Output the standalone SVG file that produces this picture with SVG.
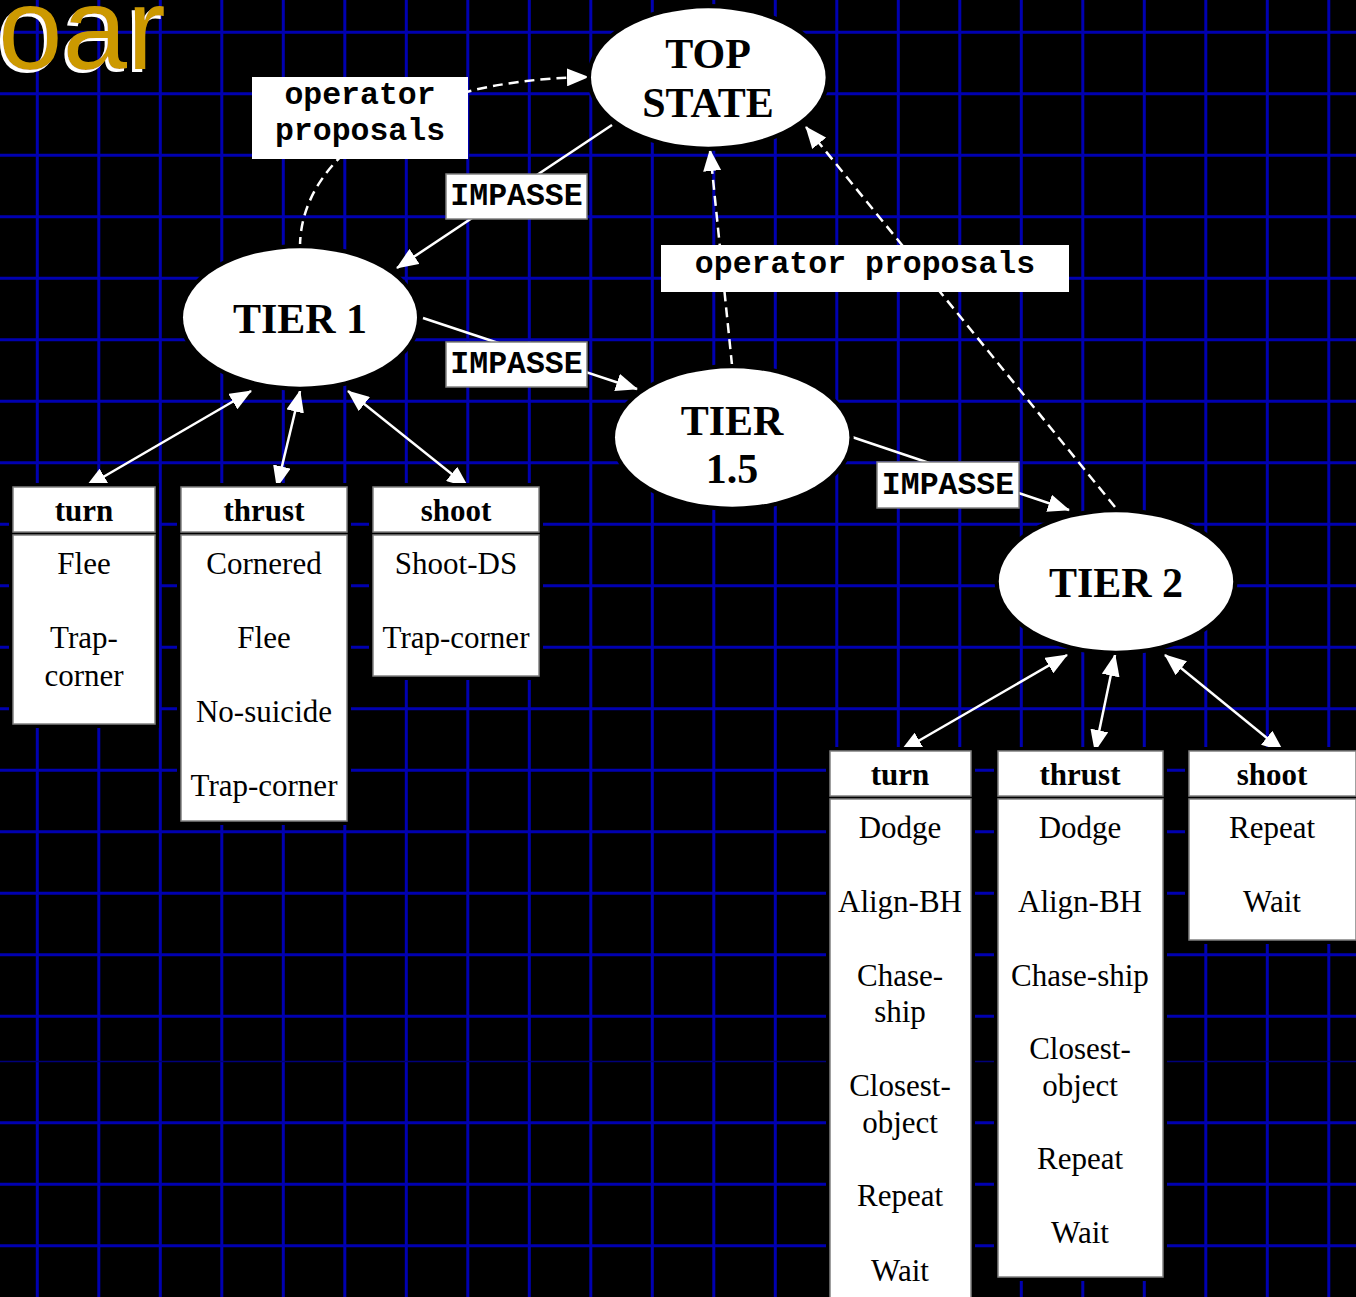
<svg xmlns="http://www.w3.org/2000/svg" width="1356" height="1297" viewBox="0 0 1356 1297">
<defs>
<style>
.grid line{stroke:#0000b0;stroke-width:3}
.halo{fill:#000}
.node{fill:#fff}
.nl{font-family:"Liberation Serif","Times New Roman",serif;font-weight:bold;font-size:42px;text-anchor:middle;fill:#000}
.box{fill:#fff;stroke:#808080;stroke-width:1.5}
.lbox{fill:#fff}
.hdr{font-family:"Liberation Serif","Times New Roman",serif;font-weight:bold;font-size:31px;text-anchor:middle;fill:#000}
.it{font-family:"Liberation Serif","Times New Roman",serif;font-size:31px;text-anchor:middle;fill:#000}
.lbl{font-family:"Liberation Mono","Courier New",monospace;font-weight:bold;font-size:31.5px;text-anchor:middle;fill:#000}
.edge{stroke:#fff;stroke-width:2.5;fill:none}
.dash{stroke-dasharray:10 6}
</style>
<filter id="wshadow" x="-20%" y="-20%" width="140%" height="140%">
<feFlood flood-color="#fff" result="w"/>
<feComposite in="w" in2="SourceAlpha" operator="in" result="ws"/>
<feOffset in="ws" dx="-3" dy="3" result="off"/>
<feMerge><feMergeNode in="off"/><feMergeNode in="SourceGraphic"/></feMerge>
</filter>
<marker id="ah" viewBox="0 0 22 18" markerWidth="22" markerHeight="18" refX="21" refY="9" orient="auto-start-reverse" markerUnits="userSpaceOnUse">
<path d="M0,0 L22,9 L0,18 z" fill="#fff"/>
</marker>
</defs>
<rect x="0" y="0" width="1356" height="1297" fill="#000"/>
<g class="grid">
<line x1="37.3" y1="0" x2="37.3" y2="1297"/><line x1="98.8" y1="0" x2="98.8" y2="1297"/><line x1="160.3" y1="0" x2="160.3" y2="1297"/><line x1="221.8" y1="0" x2="221.8" y2="1297"/><line x1="283.3" y1="0" x2="283.3" y2="1297"/><line x1="344.8" y1="0" x2="344.8" y2="1297"/><line x1="406.3" y1="0" x2="406.3" y2="1297"/><line x1="467.8" y1="0" x2="467.8" y2="1297"/><line x1="529.3" y1="0" x2="529.3" y2="1297"/><line x1="590.8" y1="0" x2="590.8" y2="1297"/><line x1="652.3" y1="0" x2="652.3" y2="1297"/><line x1="713.8" y1="0" x2="713.8" y2="1297"/><line x1="775.3" y1="0" x2="775.3" y2="1297"/><line x1="836.8" y1="0" x2="836.8" y2="1297"/><line x1="898.3" y1="0" x2="898.3" y2="1297"/><line x1="959.8" y1="0" x2="959.8" y2="1297"/><line x1="1021.3" y1="0" x2="1021.3" y2="1297"/><line x1="1082.8" y1="0" x2="1082.8" y2="1297"/><line x1="1144.3" y1="0" x2="1144.3" y2="1297"/><line x1="1205.8" y1="0" x2="1205.8" y2="1297"/><line x1="1267.3" y1="0" x2="1267.3" y2="1297"/><line x1="1328.8" y1="0" x2="1328.8" y2="1297"/>
<line x1="0" y1="32.3" x2="1356" y2="32.3"/><line x1="0" y1="93.8" x2="1356" y2="93.8"/><line x1="0" y1="155.3" x2="1356" y2="155.3"/><line x1="0" y1="216.8" x2="1356" y2="216.8"/><line x1="0" y1="278.3" x2="1356" y2="278.3"/><line x1="0" y1="339.8" x2="1356" y2="339.8"/><line x1="0" y1="401.3" x2="1356" y2="401.3"/><line x1="0" y1="462.8" x2="1356" y2="462.8"/><line x1="0" y1="524.3" x2="1356" y2="524.3"/><line x1="0" y1="585.8" x2="1356" y2="585.8"/><line x1="0" y1="647.3" x2="1356" y2="647.3"/><line x1="0" y1="708.8" x2="1356" y2="708.8"/><line x1="0" y1="770.3" x2="1356" y2="770.3"/><line x1="0" y1="831.8" x2="1356" y2="831.8"/><line x1="0" y1="893.3" x2="1356" y2="893.3"/><line x1="0" y1="954.8" x2="1356" y2="954.8"/><line x1="0" y1="1016.3" x2="1356" y2="1016.3"/><line x1="0" y1="1061.5" x2="1356" y2="1061.5" style="stroke-width:1.5;stroke:#00007a"/><line x1="0" y1="1122.7" x2="1356" y2="1122.7"/><line x1="0" y1="1184.2" x2="1356" y2="1184.2"/><line x1="0" y1="1245.7" x2="1356" y2="1245.7"/>
</g>
<g id="title">
<text x="-2" y="69" font-family="'Liberation Sans',Arial,sans-serif" font-size="116" fill="#cc9900" filter="url(#wshadow)">oar</text>
</g>
<g id="connectors">
<path class="edge" d="M612,125 L397,268" marker-end="url(#ah)"/>
<path class="edge" d="M423,318 L637,389" marker-end="url(#ah)"/>
<path class="edge" d="M852,437 L1069,510" marker-end="url(#ah)"/>
<path class="edge dash" d="M300,247 C300,160 400,80 588,77" marker-end="url(#ah)"/>
<path class="edge dash" d="M732,365 L710,150" marker-end="url(#ah)"/>
<path class="edge dash" d="M1115,507 L806,127" marker-end="url(#ah)"/>
<path class="edge" d="M251,391 L86,487" marker-start="url(#ah)" marker-end="url(#ah)"/>
<path class="edge" d="M300,391 L277,487" marker-start="url(#ah)" marker-end="url(#ah)"/>
<path class="edge" d="M348,391 L468,487" marker-start="url(#ah)" marker-end="url(#ah)"/>
<path class="edge" d="M1067,655 L901,751" marker-start="url(#ah)" marker-end="url(#ah)"/>
<path class="edge" d="M1115,655 L1095,751" marker-start="url(#ah)" marker-end="url(#ah)"/>
<path class="edge" d="M1165,655 L1283,751" marker-start="url(#ah)" marker-end="url(#ah)"/>
</g>
<g id="top-state">
<ellipse class="halo" cx="708.3" cy="77.5" rx="121.5" ry="73.5"/>
<ellipse class="node" cx="708.3" cy="77.5" rx="117.3" ry="69.2"/>
<text class="nl" x="708" y="68">TOP</text>
<text class="nl" x="708" y="117">STATE</text>
</g>
<g id="tier1">
<ellipse class="halo" cx="300" cy="317.5" rx="121" ry="73.5"/>
<ellipse class="node" cx="300" cy="317.5" rx="117" ry="69.2"/>
<text class="nl" x="300" y="333">TIER 1</text>
</g>
<g id="tier15">
<ellipse class="halo" cx="732.2" cy="437.5" rx="121.5" ry="73.5"/>
<ellipse class="node" cx="732.2" cy="437.5" rx="117.2" ry="69.2"/>
<text class="nl" x="732" y="435">TIER</text>
<text class="nl" x="732" y="483">1.5</text>
</g>
<g id="tier2">
<ellipse class="halo" cx="1116" cy="581.5" rx="121.5" ry="73.5"/>
<ellipse class="node" cx="1116" cy="581.5" rx="117.2" ry="69.2"/>
<text class="nl" x="1116" y="597">TIER 2</text>
</g>
<g id="label-op1">
<rect class="lbox" x="252" y="77" width="216" height="82"/>
<text class="lbl" x="360" y="104">operator</text>
<text class="lbl" x="360" y="140">proposals</text>
</g>
<g id="label-imp1">
<rect class="box" x="446" y="174" width="141" height="45"/>
<text class="lbl" x="516.5" y="205">IMPASSE</text>
</g>
<g id="label-imp2">
<rect class="box" x="446" y="342" width="141" height="45"/>
<text class="lbl" x="516.5" y="373">IMPASSE</text>
</g>
<g id="label-imp3">
<rect class="box" x="877" y="462" width="142" height="46"/>
<text class="lbl" x="948" y="494">IMPASSE</text>
</g>
<g id="label-op2">
<rect class="lbox" x="661" y="245" width="408" height="47"/>
<text class="lbl" x="865" y="273">operator proposals</text>
</g>
<g id="t1-turn">
<rect class="halo" x="9" y="483" width="150" height="245"/>
<rect class="box" x="13" y="487" width="142" height="45"/>
<text class="hdr" x="84" y="521">turn</text>
<rect class="box" x="13" y="535" width="142" height="189"/>
<text class="it" x="84" y="574">Flee</text>
<text class="it" x="84" y="648">Trap-</text>
<text class="it" x="84" y="686">corner</text>
</g>
<g id="t1-thrust">
<rect class="halo" x="177" y="483" width="174" height="342"/>
<rect class="box" x="181" y="487" width="166" height="45"/>
<text class="hdr" x="264" y="521">thrust</text>
<rect class="box" x="181" y="535" width="166" height="286"/>
<text class="it" x="264" y="574">Cornered</text>
<text class="it" x="264" y="648">Flee</text>
<text class="it" x="264" y="722">No-suicide</text>
<text class="it" x="264" y="796">Trap-corner</text>
</g>
<g id="t1-shoot">
<rect class="halo" x="369" y="483" width="174" height="197"/>
<rect class="box" x="373" y="487" width="166" height="45"/>
<text class="hdr" x="456" y="521">shoot</text>
<rect class="box" x="373" y="535" width="166" height="141"/>
<text class="it" x="456" y="574">Shoot-DS</text>
<text class="it" x="456" y="648">Trap-corner</text>
</g>
<g id="t2-turn">
<rect class="halo" x="826" y="747" width="149" height="560"/>
<rect class="box" x="830" y="751" width="141" height="45"/>
<text class="hdr" x="900" y="785">turn</text>
<rect class="box" x="830" y="799" width="141" height="510"/>
<text class="it" x="900" y="838">Dodge</text>
<text class="it" x="900" y="912">Align-BH</text>
<text class="it" x="900" y="986">Chase-</text>
<text class="it" x="900" y="1022">ship</text>
<text class="it" x="900" y="1096">Closest-</text>
<text class="it" x="900" y="1133">object</text>
<text class="it" x="900" y="1206">Repeat</text>
<text class="it" x="900" y="1281">Wait</text>
</g>
<g id="t2-thrust">
<rect class="halo" x="994" y="747" width="173" height="534"/>
<rect class="box" x="998" y="751" width="165" height="45"/>
<text class="hdr" x="1080" y="785">thrust</text>
<rect class="box" x="998" y="799" width="165" height="478"/>
<text class="it" x="1080" y="838">Dodge</text>
<text class="it" x="1080" y="912">Align-BH</text>
<text class="it" x="1080" y="986">Chase-ship</text>
<text class="it" x="1080" y="1059">Closest-</text>
<text class="it" x="1080" y="1096">object</text>
<text class="it" x="1080" y="1169">Repeat</text>
<text class="it" x="1080" y="1243">Wait</text>
</g>
<g id="t2-shoot">
<rect class="halo" x="1185" y="747" width="175" height="197"/>
<rect class="box" x="1189" y="751" width="167" height="45"/>
<text class="hdr" x="1272" y="785">shoot</text>
<rect class="box" x="1189" y="799" width="167" height="141"/>
<text class="it" x="1272" y="838">Repeat</text>
<text class="it" x="1272" y="912">Wait</text>
</g>
</svg>
